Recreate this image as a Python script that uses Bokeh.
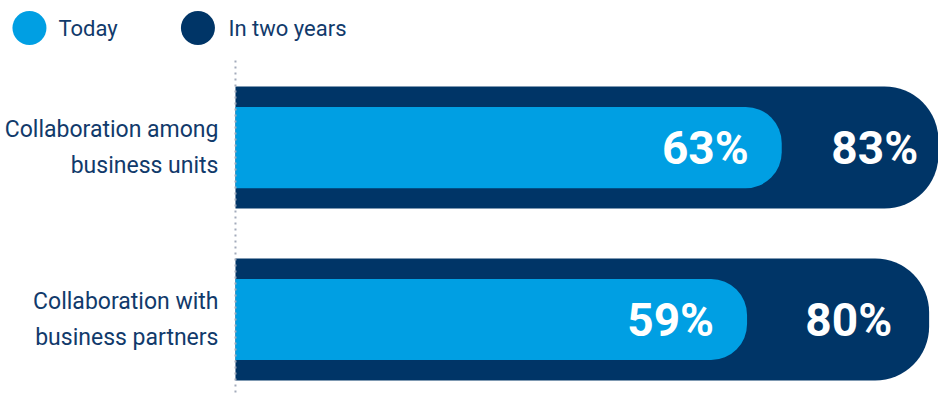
from bokeh.plotting import figure
from bokeh.models import Range1d, ColumnDataSource
from bokeh.core.properties import value
from bokeh.embed import file_html
from bokeh.resources import INLINE

# ---- data ----
categories = ["Collaboration among\nbusiness units", "Collaboration with\nbusiness partners"]
today = [63, 59]
in_two_years = [83, 80]
series_names = ["Today", "In two years"]

LIGHT = "#009fe3"
DARK = "#003567"
NAVY_TEXT = "#113a6b"
FONT = "Roboto"

idx = list(range(len(categories)))
src = ColumnDataSource(dict(
    y=idx, cat=categories, today=today, future=in_two_years,
    today_lbl=[f"{v}%" for v in today], future_lbl=[f"{v}%" for v in in_two_years],
    zero=[0] * len(idx),
))

p = figure(width=938, height=394, output_backend="svg", toolbar_location=None,
           x_range=Range1d(-27.1, 81.08), y_range=Range1d(1.436, -0.855),
           min_border=0, min_border_left=0, min_border_right=0,
           min_border_top=0, min_border_bottom=0)
p.axis.visible = False
p.grid.visible = False
p.outline_line_color = None
p.background_fill_color = None
p.border_fill_color = "white"

# bars
p.hbar(y="y", left=0, right="future", height=0.71, source=src,
       fill_color=DARK, line_color=None, border_radius=(0, 54, 54, 0))
p.hbar(y="y", left=0, right="today", height=0.472, source=src,
       fill_color=LIGHT, line_color=None, border_radius=(0, 36, 36, 0))

# dotted baseline
p.segment(x0=0, y0=-0.506, x1=0, y1=1.436, line_color="#a3abbb",
          line_width=2, line_dash="2 4")

# value labels
p.text(x="future", y="y", text="future_lbl", source=src, x_offset=-37,
       text_align="right", text_baseline="middle", text_color="white",
       text_font=value(FONT), text_font_style="bold", text_font_size="46px")
p.text(x="today", y="y", text="today_lbl", source=src, x_offset=-33,
       text_align="right", text_baseline="middle", text_color="white",
       text_font=value(FONT), text_font_style="bold", text_font_size="46px")

# category labels
p.text(x="zero", y="y", text="cat", source=src, x_offset=-17,
       text_align="right", text_baseline="middle", text_color=NAVY_TEXT,
       text_font=value(FONT), text_font_size="23px", text_line_height=1.36)

# legend (manual, in data units)
leg_x = [-23.76, -4.33]
leg_tx = [-20.42, -0.81]
leg_y = [-0.695, -0.695]
p.scatter(x=leg_x, y=leg_y, size=34, marker="circle",
          fill_color=[LIGHT, DARK], line_color=None)
p.text(x=leg_tx, y=leg_y, text=series_names, text_align="left",
       text_baseline="middle", text_color=NAVY_TEXT,
       text_font=value(FONT), text_font_size="22px")

open("out.html", "w").write(file_html(p, INLINE))
